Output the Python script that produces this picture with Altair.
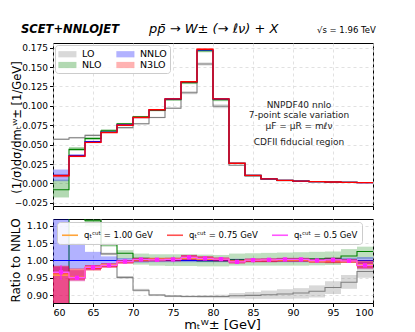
import altair as alt
import pandas as pd

# ---------------- data ----------------
edges = [60, 62, 64, 66, 68, 70, 72, 74, 76, 78, 80, 82, 84, 86, 88, 90, 92, 94, 96, 98, 100]

series_names = ["LO", "NLO", "NNLO", "N3LO"]
line_colors = ["#808080", "#008000", "#0000ff", "#ff0000"]

# top panel: normalised distribution
lo_top = [0.057, 0.059, 0.062, 0.067, 0.072, 0.077, 0.085, 0.097, 0.117, 0.154, 0.0995, 0.0235, 0.0095, 0.0055, 0.0037, 0.0027, 0.0022, 0.0018, 0.0014, 0.0011]
lo_top_lo = [0.056, 0.058, 0.061, 0.066, 0.071, 0.076, 0.084, 0.096, 0.115, 0.152, 0.097, 0.0230, 0.0092, 0.0053, 0.0035, 0.0025, 0.0020, 0.0016, 0.0012, 0.0010]
lo_top_hi = [0.058, 0.060, 0.063, 0.068, 0.073, 0.078, 0.086, 0.098, 0.119, 0.156, 0.102, 0.0240, 0.0098, 0.0057, 0.0039, 0.0029, 0.0024, 0.0020, 0.0016, 0.0012]

nlo_top = [-0.008, 0.044, 0.058, 0.068, 0.077, 0.086, 0.094, 0.108, 0.130, 0.171, 0.108, 0.026, 0.0105, 0.0060, 0.0040, 0.0030, 0.0024, 0.0019, 0.0015, 0.0012]
nlo_top_lo = [-0.018, 0.042, 0.056, 0.067, 0.076, 0.085, 0.093, 0.107, 0.128, 0.169, 0.106, 0.0255, 0.0102, 0.0058, 0.0039, 0.0029, 0.0023, 0.0018, 0.0014, 0.0011]
nlo_top_hi = [0.005, 0.047, 0.060, 0.070, 0.078, 0.087, 0.096, 0.110, 0.132, 0.173, 0.110, 0.0265, 0.0108, 0.0062, 0.0041, 0.0031, 0.0025, 0.0020, 0.0016, 0.0013]

nnlo_top = [0.0105, 0.036, 0.054, 0.066, 0.0755, 0.085, 0.095, 0.109, 0.131, 0.172, 0.109, 0.026, 0.0105, 0.0060, 0.0040, 0.0030, 0.0024, 0.0019, 0.0015, 0.0011]
nnlo_top_lo = [0.003, 0.034, 0.052, 0.065, 0.075, 0.084, 0.094, 0.108, 0.130, 0.171, 0.108, 0.0255, 0.0103, 0.0059, 0.0039, 0.0029, 0.0023, 0.0018, 0.0014, 0.0010]
nnlo_top_hi = [0.018, 0.038, 0.055, 0.067, 0.076, 0.086, 0.096, 0.110, 0.132, 0.173, 0.110, 0.0265, 0.0107, 0.0061, 0.0041, 0.0031, 0.0025, 0.0020, 0.0016, 0.0012]

n3lo_top = [0.0100, 0.035, 0.053, 0.0655, 0.075, 0.085, 0.095, 0.109, 0.131, 0.173, 0.109, 0.026, 0.0105, 0.0060, 0.0040, 0.0030, 0.0024, 0.0019, 0.0015, 0.0011]
n3lo_top_lo = [0.008, 0.034, 0.052, 0.065, 0.0745, 0.0845, 0.0945, 0.1085, 0.1305, 0.172, 0.1085, 0.0257, 0.0103, 0.0059, 0.0039, 0.0029, 0.0023, 0.0018, 0.0014, 0.0010]
n3lo_top_hi = [0.012, 0.036, 0.054, 0.066, 0.0755, 0.0855, 0.0955, 0.1095, 0.1315, 0.174, 0.1095, 0.0263, 0.0107, 0.0061, 0.0041, 0.0031, 0.0025, 0.0020, 0.0016, 0.0012]

# bottom panel: ratio to NNLO
lo_ratio = [5.4, 1.64, 1.15, 1.019, 0.951, 0.914, 0.900, 0.897, 0.896, 0.896, 0.896, 0.898, 0.899, 0.901, 0.903, 0.906, 0.911, 0.922, 0.937, 0.968]
lo_ratio_lo = [5.2, 1.60, 1.12, 1.015, 0.947, 0.910, 0.897, 0.894, 0.893, 0.892, 0.891, 0.890, 0.889, 0.889, 0.889, 0.890, 0.893, 0.903, 0.918, 0.950]
lo_ratio_hi = [5.6, 1.68, 1.18, 1.023, 0.955, 0.918, 0.903, 0.900, 0.899, 0.900, 0.901, 0.906, 0.909, 0.913, 0.917, 0.920, 0.928, 0.940, 0.958, 0.985]

nlo_ratio = [-0.8, 1.26, 1.115, 1.046, 1.021, 1.006, 1.001, 1.001, 1.000, 0.999, 0.999, 1.003, 1.003, 1.003, 1.004, 1.004, 1.005, 1.006, 1.013, 1.026]
nlo_ratio_lo = [-1.0, 1.22, 1.100, 1.040, 1.004, 0.988, 0.985, 0.984, 0.984, 0.983, 0.983, 0.985, 0.985, 0.985, 0.985, 0.985, 0.986, 0.987, 0.993, 1.004]
nlo_ratio_hi = [-0.6, 1.30, 1.130, 1.052, 1.030, 1.020, 1.018, 1.018, 1.018, 1.017, 1.016, 1.020, 1.021, 1.022, 1.023, 1.024, 1.025, 1.026, 1.033, 1.040]

nnlo_ratio = [1.0] * 20
nnlo_ratio_lo = [0.965, 0.975, 0.985, 0.990, 0.993, 0.994, 0.995, 0.995, 0.995, 0.995, 0.995, 0.995, 0.995, 0.995, 0.995, 0.995, 0.995, 0.994, 0.993, 0.990]
nnlo_ratio_hi = [1.30, 1.050, 1.025, 1.012, 1.007, 1.005, 1.005, 1.005, 1.005, 1.005, 1.005, 1.005, 1.005, 1.005, 1.005, 1.005, 1.005, 1.006, 1.008, 1.010]

n3lo_ratio = [0.962, 0.950, 0.978, 0.985, 0.996, 1.002, 1.003, 1.003, 1.008, 1.006, 1.003, 0.997, 1.000, 1.000, 1.001, 1.001, 0.998, 0.997, 0.998, 0.988]
n3lo_ratio_lo = [0.80, 0.943, 0.971, 0.979, 0.991, 0.997, 0.998, 0.998, 1.001, 1.000, 0.998, 0.992, 0.995, 0.995, 0.996, 0.996, 0.993, 0.992, 0.993, 0.978]
n3lo_ratio_hi = [0.985, 0.977, 0.987, 0.992, 1.001, 1.007, 1.008, 1.008, 1.016, 1.012, 1.008, 1.002, 1.005, 1.005, 1.006, 1.006, 1.003, 1.002, 1.003, 1.000]

q_labels = ["qₜᶜᵘᵗ = 1.00 GeV", "qₜᶜᵘᵗ = 0.75 GeV", "qₜᶜᵘᵗ = 0.5 GeV"]
q_colors = ["#ffa43a", "#ff5050", "#ff55ff"]
q100 = [0.958, 0.952, 0.981, 0.988, 0.997, 1.002, 1.004, 1.004, 1.006, 1.004, 1.003, 0.998, 1.001, 1.001, 1.001, 1.001, 0.997, 0.998, 0.996, 0.988]
q075 = [0.962, 0.951, 0.979, 0.986, 0.996, 1.003, 1.002, 1.003, 1.008, 1.006, 1.003, 0.997, 1.000, 1.001, 1.002, 1.002, 0.999, 0.998, 0.998, 0.985]
q050 = [0.966, 0.950, 0.980, 0.986, 0.997, 1.003, 1.002, 1.003, 1.009, 1.006, 1.004, 0.996, 1.001, 1.002, 1.003, 1.003, 1.000, 1.002, 0.999, 0.986]
q050_lo = [0.944, 0.946, 0.977, 0.983, 0.995, 1.001, 1.000, 1.001, 1.007, 1.004, 1.002, 0.993, 0.999, 1.000, 1.001, 1.001, 0.998, 1.000, 0.996, 0.982]
q050_hi = [0.986, 0.954, 0.983, 0.989, 0.999, 1.005, 1.004, 1.005, 1.011, 1.008, 1.006, 0.999, 1.003, 1.004, 1.005, 1.005, 1.002, 1.004, 1.002, 0.990]
q050_band_lo = [0.877, 0.940, 0.972, 0.980, 0.991, 0.997, 0.997, 0.998, 1.002, 1.000, 0.998, 0.991, 0.996, 0.996, 0.997, 0.997, 0.994, 0.995, 0.993, 0.975]
q050_band_hi = [0.982, 0.972, 0.987, 0.992, 1.002, 1.008, 1.007, 1.008, 1.016, 1.012, 1.009, 1.001, 1.006, 1.007, 1.008, 1.008, 1.005, 1.008, 1.004, 0.996]

x_ticks = [60, 65, 70, 75, 80, 85, 90, 95, 100]
top_y_ticks = [-0.025, 0.0, 0.025, 0.05, 0.075, 0.1, 0.125, 0.15, 0.175]
bot_y_ticks = [0.90, 0.95, 1.00, 1.05, 1.10]

annot_lines = ["NNPDF40 nnlo", "7-point scale variation", "μF = μR = mℓν", "CDFII fiducial region"]
annot_y = [62, 72, 83, 99]

FONT = "DejaVu Sans"
W = 320
H_TOP = 163
H_BOT = 84

# ---------------- helper frames ----------------
def band_frame(names, los, his):
    rows = []
    for name, lo, hi in zip(names, los, his):
        for i in range(len(lo)):
            rows.append({"series": name, "x": edges[i], "x2": edges[i + 1], "lo": lo[i], "hi": hi[i]})
    return pd.DataFrame(rows)

def step_frame(vals):
    return pd.DataFrame({"x": edges, "y": list(vals) + [vals[-1]]})

xs = alt.Scale(domain=[60, 100], nice=False, zero=False)
ys_top = alt.Scale(domain=[-0.029, 0.181], nice=False, zero=False)
ys_bot = alt.Scale(domain=[0.877, 1.12], nice=False, zero=False)

grid_axis = dict(gridColor="#d9d9d9", gridDash=[3, 3], gridWidth=0.8, labelOverlap=False,
                 labelSeparation=0, tickColor="black")

ax_x_top = alt.Axis(values=x_ticks, labels=False, title=None, **grid_axis)
ax_x_bot = alt.Axis(values=x_ticks, title="mₜᵂ±  [GeV]", titleFontSize=13, titleFontWeight="normal",
                    labelFontSize=9.5, labelPadding=1, titlePadding=1, titleX=169, titleAlign="center", **grid_axis)
ax_y_top = alt.Axis(values=top_y_ticks, format=".3f", title="(1/σ)dσ/dmₜᵂ±  [1/GeV]", titleFontSize=11.5,
                    titleFontWeight="normal", labelFontSize=9, labelPadding=2,
                    titleX=-31, titleY=84, titleBaseline="bottom", titleAngle=270, **grid_axis)
ax_y_bot = alt.Axis(values=bot_y_ticks, format=".2f", title="Ratio to NNLO", titleFontSize=12,
                    titleFontWeight="normal", labelFontSize=9.5, labelPadding=2,
                    titleX=-31, titleY=41, titleBaseline="bottom", titleAngle=270, **grid_axis)

def X(panel):
    return alt.X("x:Q", scale=xs, axis=ax_x_top if panel == "top" else ax_x_bot)

def Y(field, panel):
    if panel == "top":
        return alt.Y(field, scale=ys_top, axis=ax_y_top)
    return alt.Y(field, scale=ys_bot, axis=ax_y_bot)

# ---------------- top panel ----------------
top_bands = band_frame(series_names,
                       [lo_top_lo, nlo_top_lo, nnlo_top_lo, n3lo_top_lo],
                       [lo_top_hi, nlo_top_hi, nnlo_top_hi, n3lo_top_hi])

legend_path = "M-1,-0.55H2.2V0.55H-1Z"
top_band_layer = alt.Chart(top_bands).mark_rect(opacity=0.3).encode(
    x=X("top"), x2="x2:Q", y=Y("lo:Q", "top"), y2="hi:Q",
    color=alt.Color("series:N",
                    scale=alt.Scale(domain=series_names, range=line_colors),
                    legend=alt.Legend(title=None, orient="top-left", columns=2, offset=2,
                                      symbolType=legend_path, symbolSize=128, symbolStrokeWidth=0,
                                      labelFontSize=9.5, labelFont=FONT, columnPadding=14, rowPadding=0,
                                      padding=3, fillColor="rgba(255,255,255,0.85)", strokeColor="#cccccc",
                                      cornerRadius=3, labelOffset=12)),
)

top_lines = []
for name, vals, col in zip(series_names, [lo_top, nlo_top, nnlo_top, n3lo_top], line_colors):
    top_lines.append(
        alt.Chart(step_frame(vals)).mark_line(interpolate="step-after", color=col,
                                             strokeWidth=1.4 if name == "N3LO" else 1.1).encode(
            x=X("top"), y=Y("y:Q", "top"))
    )

annots = []
for txt, yy in zip(annot_lines, annot_y):
    annots.append(
        alt.Chart(pd.DataFrame({"t": [txt]})).mark_text(font=FONT, fontSize=9, align="center", baseline="middle",
                                                     color="#222").encode(
            x=alt.value(246), y=alt.value(yy), text="t:N"))

t1 = alt.Chart(pd.DataFrame({"t": ["SCET+NNLOJET"]})).mark_text(
    font=FONT, fontSize=11.5, fontWeight="bold", fontStyle="italic", align="left", baseline="alphabetic").encode(
    x=alt.value(-32), y=alt.value(-10), text="t:N")
t2 = alt.Chart(pd.DataFrame({"t": ["pp̄ → W± (→ ℓν)  +  X"]})).mark_text(
    font=FONT, fontSize=13, fontStyle="italic", align="left", baseline="alphabetic").encode(
    x=alt.value(96), y=alt.value(-10), text="t:N")
t3 = alt.Chart(pd.DataFrame({"t": ["√s = 1.96 TeV"]})).mark_text(
    font=FONT, fontSize=8.5, align="left", baseline="alphabetic").encode(
    x=alt.value(264), y=alt.value(-10), text="t:N")

top = alt.layer(top_band_layer, *top_lines, *annots, t1, t2, t3).properties(width=W, height=H_TOP)

# ---------------- bottom panel ----------------
def band_layer(lo, hi, col, op):
    df = band_frame(["b"], [lo], [hi])
    return alt.Chart(df).mark_rect(opacity=op, color=col, clip=True).encode(
        x=X("bot"), x2="x2:Q", y=Y("lo:Q", "bot"), y2="hi:Q")

def line_layer(vals, col, sw):
    return alt.Chart(step_frame(vals)).mark_line(interpolate="step-after", color=col, strokeWidth=sw, clip=True).encode(
        x=X("bot"), y=Y("y:Q", "bot"))

bot_layers = [
    band_layer(lo_ratio_lo, lo_ratio_hi, "#808080", 0.3),
    line_layer(lo_ratio, "#808080", 1.1),
    band_layer(nlo_ratio_lo, nlo_ratio_hi, "#008000", 0.25),
    line_layer(nlo_ratio, "#008000", 1.1),
    band_layer(nnlo_ratio_lo, nnlo_ratio_hi, "#0000ff", 0.3),
    line_layer(nnlo_ratio, "#0000ff", 1.1),
    band_layer(n3lo_ratio_lo, n3lo_ratio_hi, "#ff0000", 0.45),
    band_layer(q050_band_lo, q050_band_hi, "#d4008a", 0.45),
    line_layer(n3lo_ratio, "#ff0000", 1.3),
]

q_rows = []
for lab, vals in zip(q_labels, [q100, q075, q050]):
    for i, e in enumerate(edges):
        q_rows.append({"q": lab, "x": e, "y": vals[min(i, len(vals) - 1)]})
q_df = pd.DataFrame(q_rows)
q_lines = alt.Chart(q_df).mark_line(interpolate="step-after", strokeWidth=1.3, clip=True).encode(
    x=X("bot"), y=Y("y:Q", "bot"),
    color=alt.Color("q:N", scale=alt.Scale(domain=q_labels, range=q_colors),
                    legend=alt.Legend(title=None, orient="none", legendX=4, legendY=3, direction="horizontal",
                                      symbolType="stroke", symbolSize=256, symbolStrokeWidth=1.6,
                                      labelFontSize=8.5, labelFont=FONT, columnPadding=10, padding=4,
                                      fillColor="rgba(255,255,255,0.85)", strokeColor="#cccccc",
                                      cornerRadius=3, labelOffset=5, labelLimit=90)),
)

centers = [(edges[i] + edges[i + 1]) / 2 for i in range(20)]
pts_df = pd.DataFrame({"x": centers, "y": q050, "lo": q050_lo, "hi": q050_hi})
q_err = alt.Chart(pts_df).mark_rule(color="#ff22ff", strokeWidth=1.2, clip=True).encode(
    x=X("bot"), y=Y("lo:Q", "bot"), y2="hi:Q")
q_pts = alt.Chart(pts_df).mark_square(color="#ff22ff", size=18, opacity=1, clip=True).encode(
    x=X("bot"), y=Y("y:Q", "bot"))

bottom = alt.layer(*bot_layers, q_lines, q_err, q_pts).properties(width=W, height=H_BOT)

chart = alt.vconcat(top, bottom, spacing=6).resolve_scale(color="independent").configure(
    font=FONT, padding={"left": 0, "top": 14, "right": 4, "bottom": 0}
).configure_view(stroke="black", strokeWidth=1).configure_axis(
    labelFont=FONT, titleFont=FONT, labelColor="black", titleColor="black", domain=False, tickSize=3.5,
    labelOverlap=False)

chart.save("out.html", embed_options={"renderer": "svg", "actions": False})
